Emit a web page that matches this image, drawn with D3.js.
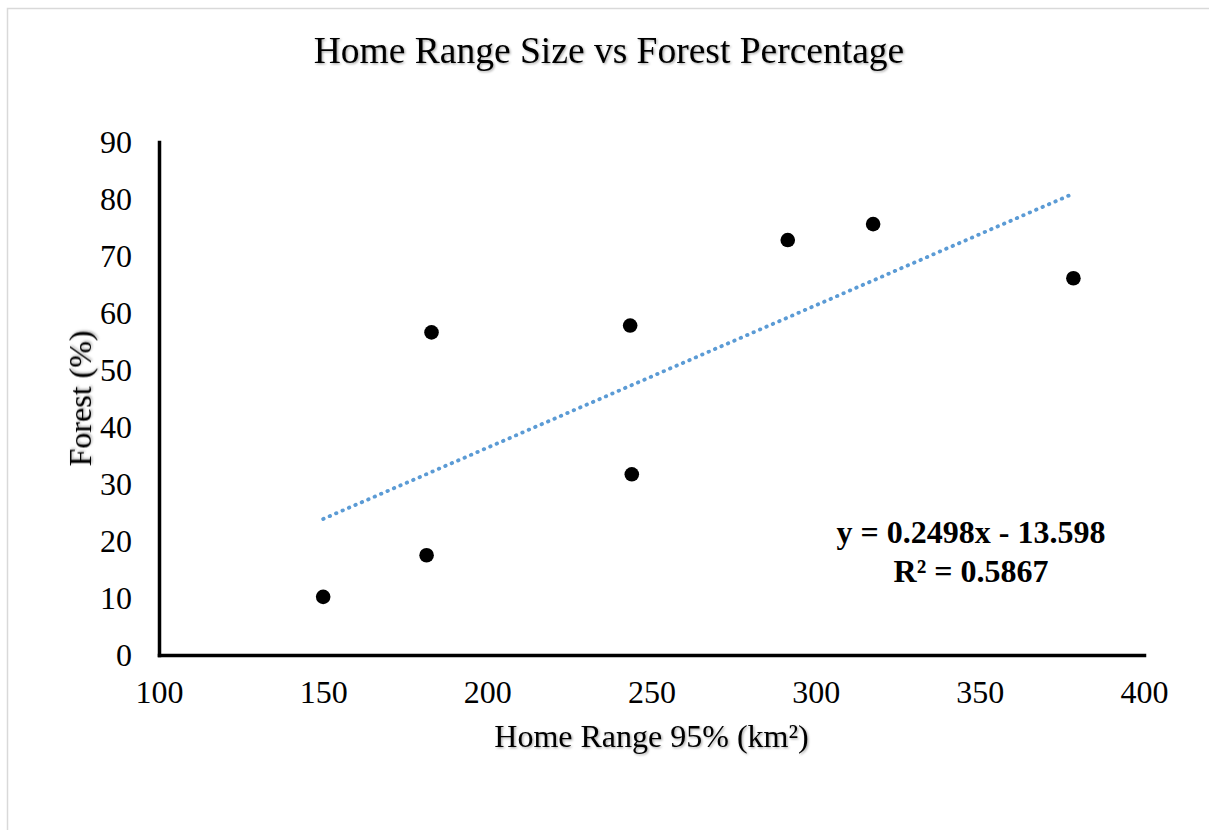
<!DOCTYPE html>
<html>
<head>
<meta charset="utf-8">
<script src="https://cdn.jsdelivr.net/npm/d3@7"></script>
<style>
  body { margin: 0; background: #fff; }
  text { font-family: "Liberation Serif", "Times New Roman", serif; fill: #000; }
</style>
</head>
<body>
<div id="chart"></div>
<script>
// data
var homeRange = [150, 181.5, 183, 243.5, 244, 291.5, 317.5, 378.5];
var forestPct = [10.2, 17.5, 56.6, 57.8, 31.7, 72.8, 75.6, 66.1];
var xTicks = [100, 150, 200, 250, 300, 350, 400];
var yTicks = [0, 10, 20, 30, 40, 50, 60, 70, 80, 90];
var trendCoef = [0.2498, -13.598]; // slope, intercept
var eqLines = ["y = 0.2498x - 13.598", "R² = 0.5867"];

function draw(){
    var width = 1209, height = 830;
    var margins = { left: 159, right: 65, top: 142, bottom: 175 };
    var plotW = width - margins.left - margins.right;
    var plotH = height - margins.top - margins.bottom;

    var svg = d3.select("#chart")
        .append("svg")
        .attr("width", width)
        .attr("height", height);

    var defs = svg.append("defs");
    var shadow = defs.append("filter")
        .attr("id", "soft")
        .attr("x", "-5%").attr("y", "-20%")
        .attr("width", "110%").attr("height", "140%");
    shadow.append("feDropShadow")
        .attr("dx", 1.2).attr("dy", 1.2)
        .attr("stdDeviation", 1)
        .attr("flood-color", "#000")
        .attr("flood-opacity", 0.35);

    // outer frame
    svg.append("rect")
        .attr("x", 7.5).attr("y", 8.5)
        .attr("width", width + 20).attr("height", height + 20)
        .style("fill", "none")
        .style("stroke", "#d9d9d9")
        .style("stroke-width", 1.5);

    svg.append("text")
        .attr("x", 609).attr("y", 63)
        .attr("text-anchor", "middle")
        .attr("filter", "url(#soft)")
        .style("font-size", "37.5px")
        .text("Home Range Size vs Forest Percentage");

    var g = svg.append("g")
        .attr("transform", "translate(" + margins.left + "," + margins.top + ")");

    var x = d3.scaleLinear().domain([100, 400]).range([0, plotW]);
    var y = d3.scaleLinear().domain([0, 90]).range([plotH, 0]);

    var yAxis = g.append("g")
        .attr("class", "y axis")
        .call(d3.axisLeft(y).tickValues(yTicks).tickSize(0).tickPadding(27).tickFormat(d3.format("d")));
    var xAxis = g.append("g")
        .attr("class", "x axis")
        .attr("transform", "translate(0," + plotH + ")")
        .call(d3.axisBottom(x).tickValues(xTicks).tickSize(0).tickPadding(25).tickFormat(d3.format("d")));

    g.selectAll(".axis text")
        .style("font-family", "'Liberation Serif', serif")
        .style("font-size", "32px")
        .style("fill", "#000");
    g.selectAll(".axis .domain")
        .style("stroke", "#000")
        .style("stroke-width", 3.5)
        .style("stroke-linecap", "square");

    // trendline over the data's x extent
    var xExt = d3.extent(homeRange);
    var trend = xExt.map(function(v){ return [v, trendCoef[0] * v + trendCoef[1]]; });
    g.append("path")
        .datum(trend)
        .attr("d", d3.line()
            .x(function(d){ return x(d[0]); })
            .y(function(d){ return y(d[1]); }))
        .style("fill", "none")
        .style("stroke", "#5b9bd5")
        .style("stroke-width", 3.8)
        .style("stroke-linecap", "round")
        .style("stroke-dasharray", "0.5,6.5");

    g.selectAll("circle.dot")
        .data(homeRange)
      .enter().append("circle")
        .attr("class", "dot")
        .attr("r", 7.3)
        .attr("cx", function(d){ return x(d); })
        .attr("cy", function(d, i){ return y(forestPct[i]); })
        .style("fill", "#000");

    var eq = g.append("text")
        .attr("x", 812)
        .attr("y", 401)
        .attr("text-anchor", "middle")
        .style("font-weight", "bold")
        .style("font-size", "32px");
    eqLines.forEach(function(t, i){
        eq.append("tspan")
            .attr("x", 812)
            .attr("dy", i === 0 ? 0 : 39)
            .text(t);
    });

    svg.append("text")
        .attr("x", margins.left + plotW / 2)
        .attr("y", 747)
        .attr("text-anchor", "middle")
        .attr("filter", "url(#soft)")
        .style("font-size", "32px")
        .text("Home Range 95% (km²)");

    svg.append("text")
        .attr("transform", "translate(91," + (margins.top + plotH / 2) + ") rotate(-90)")
        .attr("text-anchor", "middle")
        .attr("filter", "url(#soft)")
        .style("font-size", "32px")
        .text("Forest (%)");
}
draw();
</script>
</body>
</html>
